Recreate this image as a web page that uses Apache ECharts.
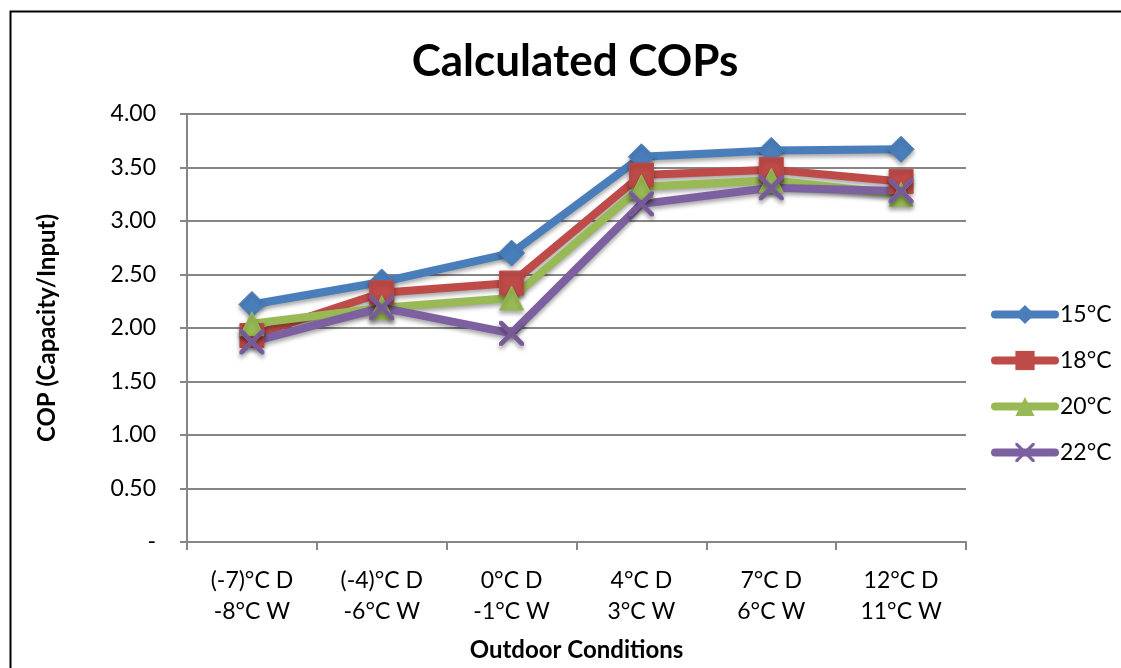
<!DOCTYPE html>
<html>
<head>
<meta charset="utf-8">
<script src="https://cdn.jsdelivr.net/npm/echarts@6/dist/echarts.min.js"></script>
<style>
  html, body { margin: 0; padding: 0; background: #fff; }
  #main { width: 1121px; height: 668px; }
</style>
</head>
<body>
<div id="main"></div>
<script>
// outdoor conditions (dry bulb / wet bulb)
var categories = ['(-7)°C D\n-8°C W', '(-4)°C D\n-6°C W', '0°C D\n-1°C W', '4°C D\n3°C W', '7°C D\n6°C W', '12°C D\n11°C W'];
var cop15 = [2.22, 2.43, 2.70, 3.60, 3.66, 3.67];
var cop18 = [1.93, 2.33, 2.42, 3.43, 3.48, 3.37];
var cop20 = [2.04, 2.19, 2.28, 3.32, 3.38, 3.25];
var cop22 = [1.87, 2.19, 1.95, 3.16, 3.31, 3.28];
var yTicks = [0, 0.5, 1, 1.5, 2, 2.5, 3, 3.5, 4];

var font = 'Lato, "Open Sans", sans-serif';
var crossPath = 'path://M0,0 L1.2,0 L5,3.8 L8.8,0 L10,0 L10,1.2 L6.2,5 L10,8.8 L10,10 L8.8,10 L5,6.2 L1.2,10 L0,10 L0,8.8 L3.8,5 L0,1.2 Z';

var chart = echarts.init(document.getElementById('main'));

function mkSeries(name, data, color, symbol, size) {
    return {
        name: name,
        type: 'line',
        data: data,
        symbol: symbol,
        symbolSize: size,
        showAllSymbol: true,
        lineStyle: {
            color: color,
            width: 8,
            shadowColor: 'rgba(0,0,0,0.35)',
            shadowBlur: 4,
            shadowOffsetY: 3
        },
        itemStyle: {
            color: color,
            borderColor: color,
            shadowColor: 'rgba(0,0,0,0.35)',
            shadowBlur: 4,
            shadowOffsetY: 3
        },
        emphasis: { disabled: true }
    };
}

var option = {
    backgroundColor: '#fff',
    animation: false,
    title: {
        text: 'Calculated COPs',
        left: 570,
        top: 35,
        textAlign: 'center',
        textStyle: { fontFamily: font, fontSize: 44, fontWeight: 'bold', color: '#000' }
    },
    graphic: [{
        type: 'rect',
        shape: { x: 10.5, y: 11.5, width: 1200, height: 700 },
        style: { fill: null, stroke: '#000', lineWidth: 2 },
        silent: true
    }],
    legend: {
        orient: 'vertical',
        left: 986,
        top: 298,
        itemWidth: 60,
        itemHeight: 24,
        itemGap: 23,
        lineStyle: { width: 8, cap: 'round' },
        textStyle: { fontFamily: font, fontSize: 23, color: '#000' },
        data: ['15°C', '18°C', '20°C', '22°C']
    },
    grid: { left: 187, right: 155, top: 114, bottom: 126, outerBoundsMode: 'none' },
    xAxis: {
        type: 'category',
        data: categories,
        boundaryGap: true,
        name: 'Outdoor Conditions',
        nameLocation: 'middle',
        nameGap: 96,
        nameTextStyle: { fontFamily: font, fontSize: 24, fontWeight: 'bold', color: '#000' },
        axisLine: { lineStyle: { color: '#868686', width: 2 } },
        axisTick: { show: true, length: 8, lineStyle: { color: '#868686', width: 2 } },
        axisLabel: { fontFamily: font, fontSize: 23, color: '#000', lineHeight: 31, margin: 23 }
    },
    yAxis: {
        type: 'value',
        min: 0,
        max: 4,
        interval: 0.5,
        name: 'COP (Capacity/Input)',
        nameLocation: 'middle',
        nameGap: 128,
        nameTextStyle: { fontFamily: font, fontSize: 24, fontWeight: 'bold', color: '#000' },
        axisLine: { show: true, lineStyle: { color: '#868686', width: 2 } },
        axisTick: { show: true, length: 7, lineStyle: { color: '#868686', width: 2 } },
        splitLine: { lineStyle: { color: '#868686', width: 2 } },
        axisLabel: {
            fontFamily: font, fontSize: 23, color: '#000', margin: 31,
            formatter: function (v) {
                if (yTicks.indexOf(v) < 0) return '';
                return v === 0 ? '-' : v.toFixed(2);
            }
        }
    },
    series: [
        mkSeries('15°C', cop15, '#4A7EBB', 'diamond', 26),
        mkSeries('18°C', cop18, '#BE4B48', 'rect', 24),
        mkSeries('20°C', cop20, '#98B954', 'triangle', 24),
        mkSeries('22°C', cop22, '#7D60A0', crossPath, 24)
    ]
};

chart.setOption(option);
</script>
</body>
</html>
